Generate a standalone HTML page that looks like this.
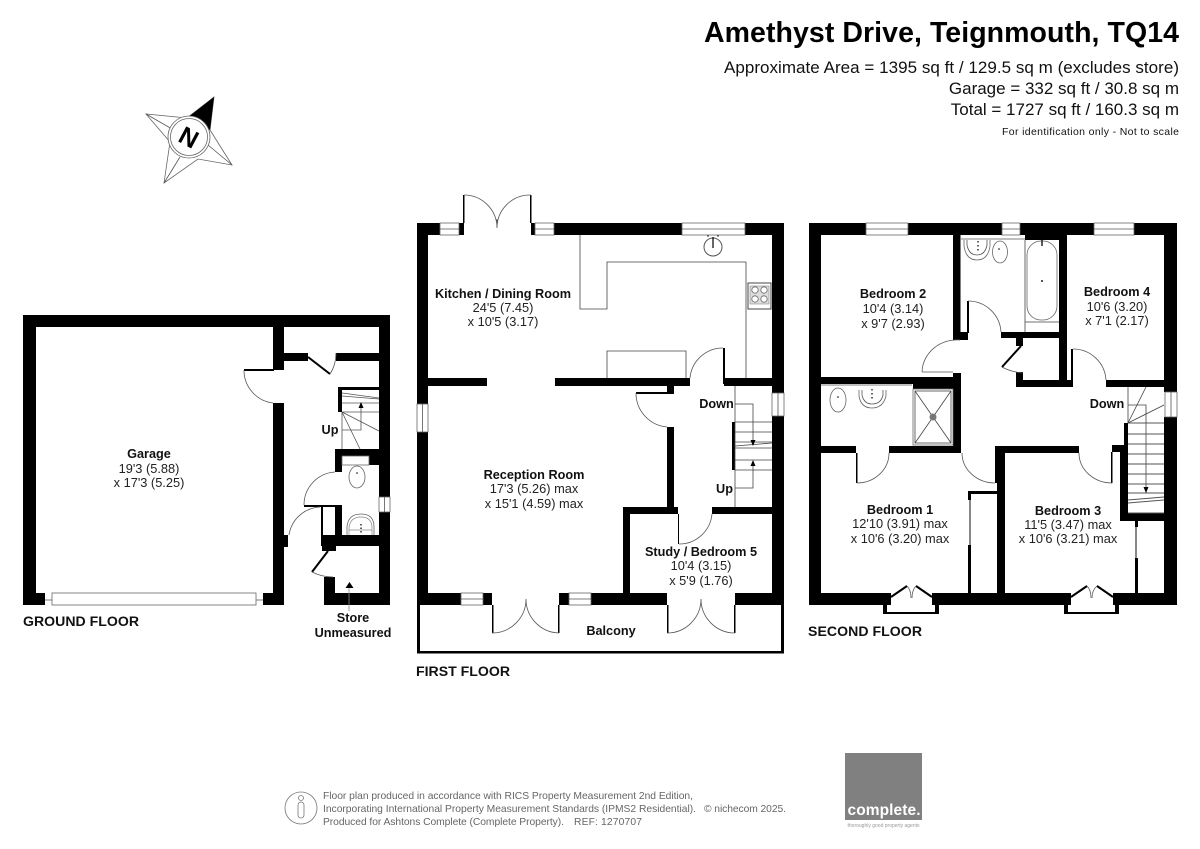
<!DOCTYPE html>
<html><head><meta charset="utf-8"><title>Amethyst Drive floor plan</title>
<style>
html,body{margin:0;padding:0;background:#fff;width:1200px;height:849px;overflow:hidden}
svg{display:block}
text{font-family:"Liberation Sans",sans-serif;fill:#111}
.b{font-weight:bold;font-size:12.7px;text-anchor:middle}
.r{font-size:12.8px;text-anchor:middle;fill:#222}
.f{font-weight:bold;font-size:14.1px;fill:#111}
.h{font-size:17px;text-anchor:end}
.t{fill:none;stroke:#444;stroke-width:.8}
.a{fill:none;stroke:#555;stroke-width:.8}
.l{fill:none;stroke:#000;stroke-width:2}
.w{fill:#fff;stroke:#666;stroke-width:.8}
.g{fill:#666;font-size:10.3px}
</style></head><body>
<svg width="1200" height="849" viewBox="0 0 1200 849" xmlns="http://www.w3.org/2000/svg">
<rect width="1200" height="849" fill="#fff"/>

<!-- header -->
<text x="1179" y="42" text-anchor="end" font-weight="bold" font-size="28.5" textLength="475" style="fill:#000">Amethyst Drive, Teignmouth, TQ14</text>
<text class="h" x="1179" y="73" textLength="455">Approximate Area = 1395 sq ft / 129.5 sq m (excludes store)</text>
<text class="h" x="1179" y="94">Garage = 332 sq ft / 30.8 sq m</text>
<text class="h" x="1179" y="115">Total = 1727 sq ft / 160.3 sq m</text>
<text x="1179" y="135" text-anchor="end" font-size="10.5" textLength="177">For identification only - Not to scale</text>

<!-- compass -->
<g>
<polygon points="214,97 210,130 232,165 198,159 164,183 170,142 146,114 187,118" fill="#fff" stroke="#666" stroke-width=".8"/>
<path d="M146,114L172,129M232,165L208,145M164,183L180,157" class="a"/>
<polygon points="214,97 187,118 210,130" fill="#000"/>
<circle cx="189" cy="137" r="21" fill="#fff" stroke="#666" stroke-width=".8"/>
<circle cx="189" cy="137" r="18.500" fill="#fff" stroke="#666" stroke-width=".8"/>
<text x="189" y="146" text-anchor="middle" font-weight="bold" font-size="25" transform="rotate(28 189 137)" style="fill:#000">N</text>
</g>

<!-- GROUND FLOOR -->
<g fill="#000">
<rect x="23" y="315" width="367" height="12"/>
<rect x="23" y="315" width="13" height="290"/>
<rect x="23" y="593" width="22" height="12"/>
<rect x="263" y="593" width="21" height="12"/>
<rect x="273" y="327" width="11" height="43"/>
<rect x="273" y="403" width="11" height="202"/>
<rect x="284" y="535" width="4" height="12"/>
<rect x="379" y="327" width="11" height="170"/>
<rect x="379" y="512" width="11" height="93"/>
<rect x="284" y="353" width="24" height="8"/>
<rect x="336" y="353" width="43" height="8"/>
<rect x="244" y="369" width="30" height="2"/>
<rect x="338" y="387" width="4" height="25"/>
<rect x="338" y="387" width="41" height="3"/>
<rect x="335" y="449" width="44" height="7"/>
<rect x="335" y="449" width="7" height="23"/>
<rect x="369" y="456" width="10" height="9"/>
<rect x="304" y="505" width="38" height="2"/>
<rect x="321" y="506" width="2" height="29"/>
<rect x="335" y="505" width="7" height="30"/>
<rect x="321" y="535" width="58" height="11"/>
<rect x="322" y="546" width="14" height="5"/>
<rect x="324" y="577" width="11" height="28"/>
<rect x="324" y="593" width="66" height="12"/>
</g>
<line x1="308" y1="357" x2="330" y2="374" class="l"/>
<line x1="328" y1="551" x2="312" y2="572" class="l"/>
<path d="M330,374 Q336,365 336,353 M244,370 A33,33 0 0 0 273,403 M304,505 A33,33 0 0 1 335,472 M289,535 A33,33 0 0 1 320,507 M312,572 Q322,577 333,577" class="a"/>
<rect x="52" y="593" width="204" height="12" class="w"/>
<path d="M45,600H52M256,600H263" class="a"/>
<rect x="379" y="497" width="11" height="15" class="w"/>
<path d="M384.500,497V512" class="a"/>
<path d="M342,393L379,398M342,396L379,399M342,403H379M342,412H379M342,412V449M342,412L379,431M342,412L360,449M342,430H361V403" class="a"/>
<polygon points="361,402 358.500,408 363.500,408" fill="#000"/>
<rect x="342" y="456" width="27" height="9" class="w"/>
<ellipse cx="357" cy="477" rx="8" ry="11" class="w"/>
<circle cx="357" cy="473" r=".8" fill="#000"/>
<path d="M347,535V527Q348,514 361,514Q374,514 374,527V535" fill="none" stroke="#666" stroke-width=".8"/>
<path d="M349,535V528Q350,517 361,517Q372,517 372,528V535M349,530H372" fill="none" stroke="#888" stroke-width=".7"/>
<path d="M361,524V533" stroke="#333" stroke-width="1.500" stroke-dasharray="1.500 2"/>
<polygon points="349.500,582 345.500,588 353.500,588" fill="#000"/>
<line x1="349" y1="588" x2="349" y2="611" stroke="#888" stroke-width=".8"/>

<text class="b" x="149" y="458">Garage</text>
<text class="r" x="149" y="473">19'3 (5.88)</text>
<text class="r" x="149" y="487">x 17'3 (5.25)</text>
<text class="b" x="330" y="434">Up</text>
<text class="b" x="353" y="622">Store</text>
<text class="b" x="353" y="637">Unmeasured</text>
<text class="f" x="23" y="626" textLength="116">GROUND FLOOR</text>

<!-- FIRST FLOOR -->
<g fill="#000">
<rect x="417" y="223" width="23" height="12"/>
<rect x="459" y="223" width="5" height="12"/>
<rect x="531" y="223" width="4" height="12"/>
<rect x="554" y="223" width="128" height="12"/>
<rect x="745" y="223" width="39" height="12"/>
<rect x="417" y="223" width="11" height="181"/>
<rect x="417" y="432" width="11" height="173"/>
<rect x="772" y="223" width="12" height="170"/>
<rect x="772" y="416" width="12" height="189"/>
<rect x="428" y="378" width="59" height="8"/>
<rect x="555" y="378" width="135" height="8"/>
<rect x="667" y="386" width="7" height="7"/>
<rect x="636" y="392" width="38" height="2"/>
<rect x="667" y="427" width="7" height="80"/>
<rect x="723" y="348" width="2" height="36"/>
<rect x="724" y="378" width="48" height="8"/>
<rect x="732" y="422" width="3" height="48"/>
<rect x="623" y="507" width="55" height="7"/>
<rect x="712" y="507" width="60" height="7"/>
<rect x="623" y="507" width="7" height="90"/>
<rect x="417" y="593" width="44" height="12"/>
<rect x="483" y="593" width="9" height="12"/>
<rect x="559" y="593" width="10" height="12"/>
<rect x="591" y="593" width="76" height="12"/>
<rect x="735" y="593" width="49" height="12"/>
<rect x="678" y="514" width="1" height="30"/>
<rect x="492" y="605" width="1.500" height="28"/>
<rect x="558" y="605" width="1.500" height="28"/>
<rect x="667" y="605" width="1.500" height="28"/>
<rect x="734" y="605" width="1.500" height="28"/>
<rect x="463" y="195" width="1.500" height="28"/>
<rect x="530" y="195" width="1.500" height="28"/>
<path d="M417,605h3v46h361v-46h3v48.500h-367z"/>
</g>
<g class="w">
<rect x="440" y="223" width="19" height="12"/><rect x="535" y="223" width="19" height="12"/>
<rect x="682" y="223" width="63" height="12"/>
<rect x="417" y="404" width="11" height="28"/>
<rect x="772" y="393" width="12" height="23"/>
<rect x="461" y="593" width="22" height="12"/><rect x="569" y="593" width="22" height="12"/>
</g>
<path d="M440,229H459M535,229H554M682,229H745M461,599H483M569,599H591M422.500,404V432M778,393V416" class="a"/>
<path d="M464,195A33,33 0 0 1 497,228M531,195A33,33 0 0 0 497,228V219M492,633A34,34 0 0 0 526,599M559,633A34,34 0 0 1 526,599M667,633A34,34 0 0 0 701,599M735,633A34,34 0 0 1 701,599M636,393A34,34 0 0 0 667,427M690,378A33,33 0 0 1 723,348M679,544A33,33 0 0 0 712,514" class="a"/>
<path d="M580,235V309H607V262H746V378M607,378V351H686V378" class="t"/>
<path d="M735,386V507M735,404H753V442M735,488H753V461M735,422H772M735,432H772M735,442H772M735,448H772M735,446L772,443M735,460H772M735,470H772" class="t"/>
<polygon points="753,446 750.500,440 755.500,440" fill="#000"/><polygon points="753,460 750.500,466 755.500,466" fill="#000"/>
<circle cx="713" cy="247" r="9" fill="#fff" stroke="#555" stroke-width="1"/>
<path d="M713,237V248" stroke="#000" stroke-width="1.200"/>
<path d="M707,236H709M717,236H719" stroke="#333"/>
<rect x="748" y="283" width="23" height="26" fill="#fff" stroke="#444" stroke-width="1"/>
<rect x="750" y="286" width="19" height="18" fill="#ddd" stroke="#777" stroke-width=".5"/>
<circle cx="755" cy="290" r="3.200" class="w"/><circle cx="764" cy="290" r="3.200" class="w"/><circle cx="755" cy="299" r="3.200" class="w"/><circle cx="764" cy="299" r="3.200" class="w"/>

<text class="b" x="503" y="298">Kitchen / Dining Room</text>
<text class="r" x="503" y="312">24'5 (7.45)</text>
<text class="r" x="503" y="326">x 10'5 (3.17)</text>
<text class="b" x="716.500" y="408">Down</text>
<text class="b" x="534" y="479">Reception Room</text>
<text class="r" x="534" y="493">17'3 (5.26) max</text>
<text class="r" x="534" y="508">x 15'1 (4.59) max</text>
<text class="b" x="724.500" y="493">Up</text>
<text class="b" x="701" y="556">Study / Bedroom 5</text>
<text class="r" x="701" y="570">10'4 (3.15)</text>
<text class="r" x="701" y="585">x 5'9 (1.76)</text>
<text class="b" x="611" y="635">Balcony</text>
<text class="f" x="416" y="676" textLength="94">FIRST FLOOR</text>

<!-- SECOND FLOOR -->
<g fill="#000">
<rect x="809" y="223" width="57" height="12"/>
<rect x="908" y="223" width="94" height="12"/>
<rect x="1020" y="223" width="74" height="12"/>
<rect x="1134" y="223" width="43" height="12"/>
<rect x="809" y="223" width="12" height="382"/>
<rect x="1164" y="223" width="13" height="169"/>
<rect x="1164" y="417" width="13" height="188"/>
<rect x="809" y="593" width="82" height="12"/>
<rect x="932" y="593" width="139" height="12"/>
<rect x="1113" y="593" width="64" height="12"/>
<rect x="953" y="235" width="7.500" height="105"/>
<rect x="960" y="332" width="8" height="8"/>
<rect x="967" y="301" width="2" height="32"/>
<rect x="1001" y="332" width="58" height="6"/>
<rect x="1025" y="235" width="34" height="5"/>
<rect x="1059" y="235" width="8" height="152"/>
<rect x="1016" y="338" width="7" height="8"/>
<rect x="1016" y="372" width="7" height="15"/>
<rect x="1016" y="380" width="57" height="7"/>
<rect x="1071" y="349" width="2" height="32"/>
<rect x="1106" y="380" width="58" height="7"/>
<rect x="821" y="377" width="140" height="7"/>
<rect x="953" y="373" width="8" height="80"/>
<rect x="913" y="384" width="40" height="5"/>
<rect x="821" y="446" width="35" height="7"/>
<rect x="889" y="446" width="72" height="7"/>
<rect x="856" y="453" width="1.500" height="30"/>
<rect x="995" y="446" width="2" height="37"/>
<rect x="997" y="446" width="82" height="7"/>
<rect x="997" y="446" width="8" height="159"/>
<rect x="1112" y="445" width="16" height="7"/>
<rect x="1111" y="452" width="1.500" height="31"/>
<rect x="1124" y="423" width="4" height="25"/>
<rect x="1120" y="445" width="8" height="76"/>
<rect x="1120" y="513" width="44" height="8"/>
<rect x="968" y="491" width="29" height="3"/>
<rect x="968" y="491" width="3" height="9"/>
<rect x="968" y="545" width="3" height="48"/>
<rect x="1135" y="521" width="3" height="6"/>
<rect x="1135" y="558" width="3" height="35"/>
<path d="M883,605h4v7h48v-7h4v9h-56zM1064,605h4v7h47v-7h4v9h-55z"/>
</g>
<rect x="969" y="500" width="2" height="45" fill="#888"/>
<rect x="1135" y="527" width="2" height="31" fill="#888"/>
<g class="w">
<rect x="866" y="223" width="42" height="12"/><rect x="1002" y="223" width="18" height="12"/>
<rect x="1094" y="223" width="40" height="12"/><rect x="1165" y="392" width="12" height="25"/>
</g>
<path d="M866,229H908M1002,229H1020M1094,229H1134M1171,392V417M961,239H1025M821,385H912" class="a"/>
<path d="M968,301A33,33 0 0 1 1001,332M922,372A35,33 0 0 1 960,340M922,372H953M1002,367Q1011,372 1023,373M1073,349A33,33 0 0 1 1106,380M857,483A32,30 0 0 0 889,453M962,453A33,30 0 0 0 995,483M1079,453A33,30 0 0 0 1112,483" class="a"/>
<line x1="1021" y1="346" x2="1002" y2="367" class="l"/>
<!-- bays -->
<path d="M891,597L907,586M932,597L916,586M1071,597L1087,586M1113,597L1097,586" class="l"/>
<path d="M907,586Q911,590 911,598M916,586Q912,590 912,598M1087,586Q1091,590 1091,598M1097,586Q1092,590 1092,598" class="a"/>
<!-- bath etc -->
<path d="M1025,240V332M1025,322H1059" class="t"/>
<rect x="1027" y="241" width="30" height="79" rx="14" class="w"/>
<circle cx="1042" cy="281" r="1" fill="#222"/>
<path d="M1042,240V246" stroke="#222" stroke-width="1.500"/>
<path d="M964,240V246Q966,260 977,260Q988,260 990,246V240" class="w"/>
<path d="M967,240V245Q969,255 977,255Q985,255 987,245V240" class="a"/>
<path d="M978,241V252" stroke="#333" stroke-width="1.500" stroke-dasharray="1.500 2.500"/>
<ellipse cx="1000" cy="252" rx="7.500" ry="11" class="w"/><circle cx="999" cy="249" r=".8" fill="#000"/>
<ellipse cx="838" cy="400" rx="8" ry="12" class="w"/><circle cx="838" cy="397" r=".8" fill="#000"/>
<path d="M859,390V396Q861,408 872,408Q883,408 886,396V390" class="w"/>
<path d="M862,390V395Q864,404 872,404Q881,404 883,395V390" class="a"/>
<path d="M872,389V401" stroke="#333" stroke-width="1.500" stroke-dasharray="1.500 2.500"/>
<rect x="913" y="389" width="40" height="56" class="w"/><rect x="915" y="391" width="36" height="52" class="t"/>
<path d="M915,391L951,443M951,391L915,443" class="t"/>
<circle cx="933" cy="417" r="3.500" fill="#777"/>
<!-- stairs -->
<path d="M1128,387V423M1128,423L1146,387M1128,423L1164,405M1128,405H1146V493" class="t"/>
<path d="M1128,423H1164M1128,434H1164M1128,444H1164M1128,454H1164M1128,464H1164M1128,474H1164M1128,484H1164M1128,493H1164M1128,500L1164,497M1128,503L1164,500M1128,513H1164" fill="none" stroke="#555" stroke-width="1"/>
<polygon points="1146,493 1143.500,487 1148.500,487" fill="#000"/>

<text class="b" x="893" y="298">Bedroom 2</text>
<text class="r" x="893" y="313">10'4 (3.14)</text>
<text class="r" x="893" y="328">x 9'7 (2.93)</text>
<text class="b" x="1117" y="296">Bedroom 4</text>
<text class="r" x="1117" y="311">10'6 (3.20)</text>
<text class="r" x="1117" y="325">x 7'1 (2.17)</text>
<text class="b" x="1107" y="408">Down</text>
<text class="b" x="900" y="514">Bedroom 1</text>
<text class="r" x="900" y="528">12'10 (3.91) max</text>
<text class="r" x="900" y="543">x 10'6 (3.20) max</text>
<text class="b" x="1068" y="515">Bedroom 3</text>
<text class="r" x="1068" y="529">11'5 (3.47) max</text>
<text class="r" x="1068" y="543">x 10'6 (3.21) max</text>
<text class="f" x="808" y="636" textLength="114">SECOND FLOOR</text>

<!-- footer -->
<ellipse cx="301" cy="808" rx="16" ry="16" fill="none" stroke="#777" stroke-width=".8"/>
<circle cx="301" cy="798" r="2.500" fill="none" stroke="#777" stroke-width=".8"/>
<rect x="298" y="802" width="6" height="16" rx="3" fill="none" stroke="#777" stroke-width=".8"/>
<text class="g" x="323" y="799" textLength="370">Floor plan produced in accordance with RICS Property Measurement 2nd Edition,</text>
<text class="g" x="323" y="812" textLength="373">Incorporating International Property Measurement Standards (IPMS2 Residential).</text>
<text class="g" x="323" y="825" textLength="241">Produced for Ashtons Complete (Complete Property).</text>
<text class="g" x="574" y="825" textLength="68">REF: 1270707</text>
<text class="g" x="704" y="812" textLength="82">© nichecom 2025.</text>
<rect x="845" y="753" width="77" height="67" fill="#808080"/>
<text x="884" y="815" text-anchor="middle" font-weight="bold" font-size="15.500" style="fill:#fff" textLength="73">complete.</text>
<text x="883.500" y="827" text-anchor="middle" font-size="5" style="fill:#999">thoroughly good property agents</text>
</svg>
</body></html>
